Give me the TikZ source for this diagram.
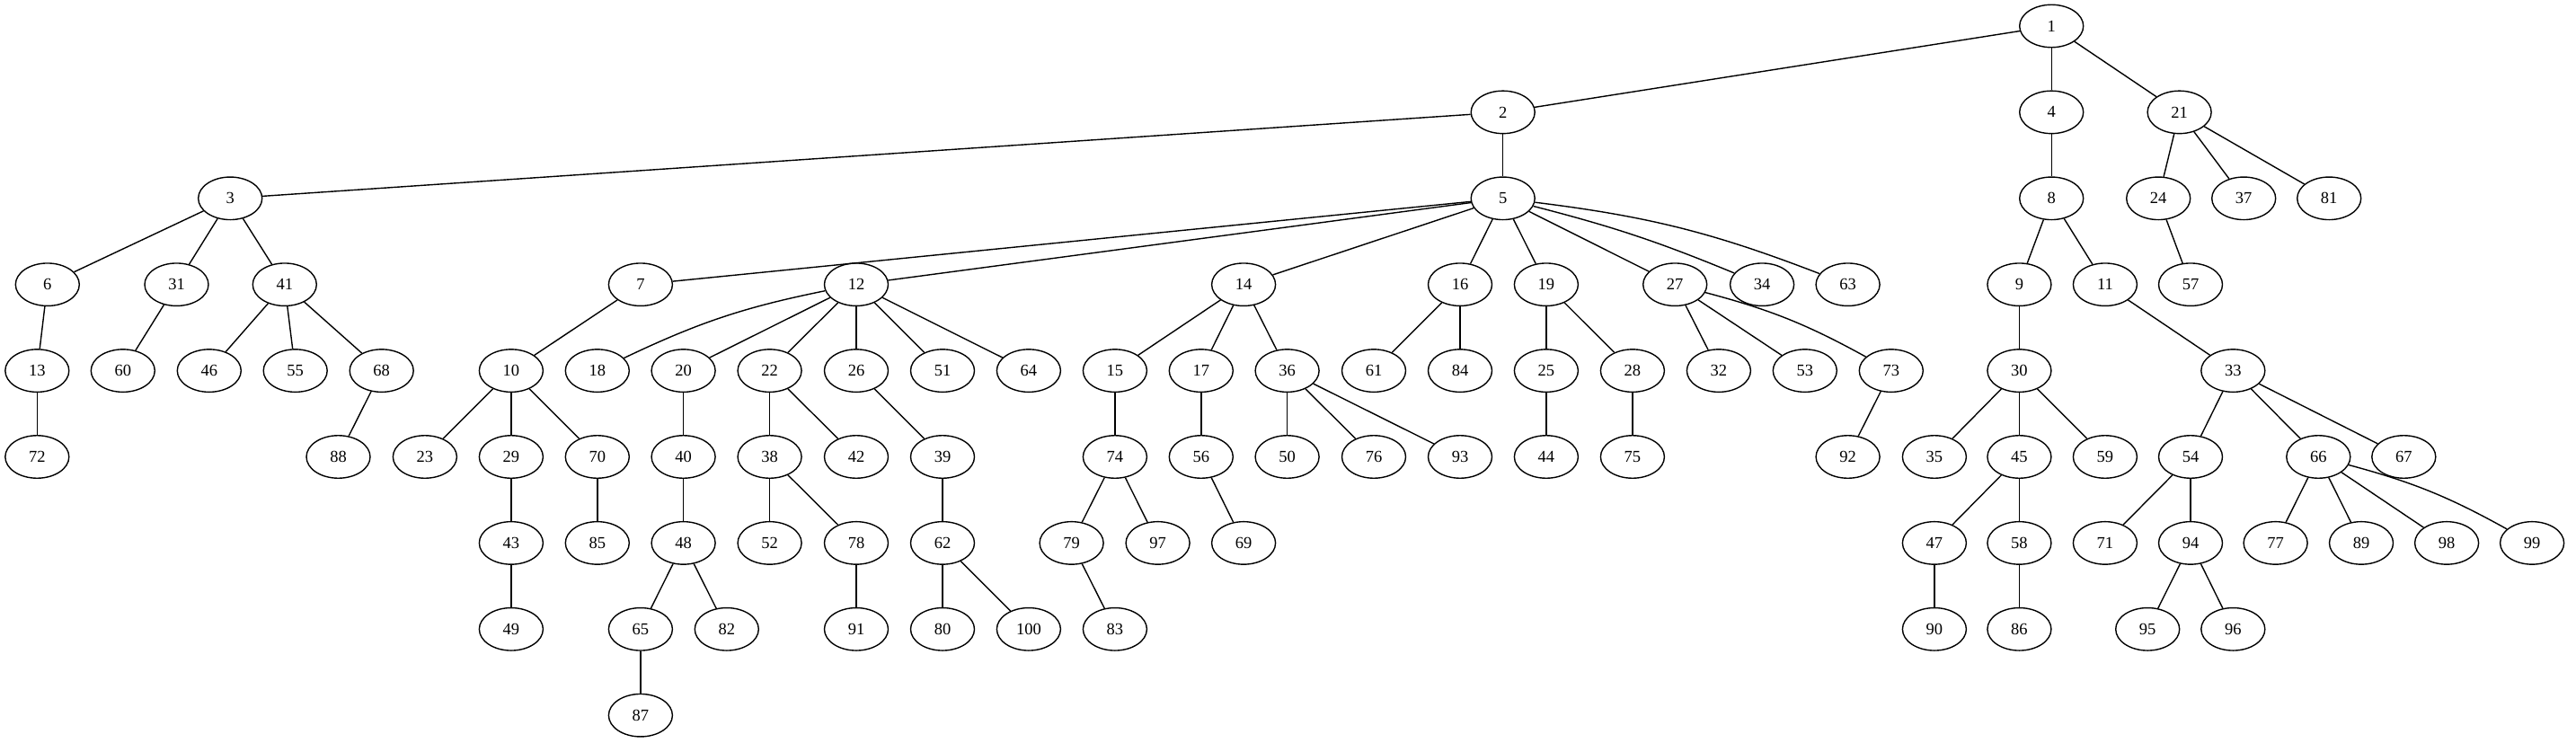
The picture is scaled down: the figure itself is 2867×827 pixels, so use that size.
\documentclass[tikz,border=0pt]{standalone}
\usepackage{fontspec}
\setmainfont{Liberation Serif}
\usetikzlibrary{shapes.geometric}
\begin{document}
\begin{tikzpicture}[x=1pt,y=1pt,
  vert/.style={ellipse,draw,line width=1.4pt,minimum width=71pt,minimum height=47.5pt,inner sep=0pt,font=\fontsize{18.5}{20}\selectfont},
  edge/.style={line width=1.4pt}]
\useasboundingbox (0,0) rectangle (2867,-827);
% row 0
\node[vert] (n1) at (2283.2,-29) {1};
% row 1
\node[vert] (n2) at (1672.7,-124.9) {2};
\node[vert] (n4) at (2283.2,-124.9) {4};
\node[vert] (n21) at (2425.6,-124.9) {21};
% row 2
\node[vert] (n3) at (256.2,-220.8) {3};
\node[vert] (n5) at (1672.7,-220.8) {5};
\node[vert] (n8) at (2283.2,-220.8) {8};
\node[vert] (n24) at (2402.2,-220.8) {24};
\node[vert] (n37) at (2497.2,-220.8) {37};
\node[vert] (n81) at (2592.2,-220.8) {81};
% row 3
\node[vert] (n6) at (52.8,-316.7) {6};
\node[vert] (n31) at (196.5,-316.7) {31};
\node[vert] (n41) at (316.8,-316.7) {41};
\node[vert] (n7) at (712.9,-316.7) {7};
\node[vert] (n12) at (953,-316.7) {12};
\node[vert] (n14) at (1384.1,-316.7) {14};
\node[vert] (n16) at (1625,-316.7) {16};
\node[vert] (n19) at (1720.9,-316.7) {19};
\node[vert] (n27) at (1864.2,-316.7) {27};
\node[vert] (n34) at (1961.1,-316.7) {34};
\node[vert] (n63) at (2056.6,-316.7) {63};
\node[vert] (n9) at (2247.4,-316.7) {9};
\node[vert] (n11) at (2342.9,-316.7) {11};
\node[vert] (n57) at (2438,-316.7) {57};
% row 4
\node[vert] (n13) at (41.3,-412.6) {13};
\node[vert] (n60) at (136.8,-412.6) {60};
\node[vert] (n46) at (232.8,-412.6) {46};
\node[vert] (n55) at (328.7,-412.6) {55};
\node[vert] (n68) at (424.7,-412.6) {68};
\node[vert] (n10) at (568.9,-412.6) {10};
\node[vert] (n18) at (664.8,-412.6) {18};
\node[vert] (n20) at (760.6,-412.6) {20};
\node[vert] (n22) at (856.6,-412.6) {22};
\node[vert] (n26) at (953,-412.6) {26};
\node[vert] (n51) at (1049,-412.6) {51};
\node[vert] (n64) at (1144.9,-412.6) {64};
\node[vert] (n15) at (1240.9,-412.6) {15};
\node[vert] (n17) at (1336.8,-412.6) {17};
\node[vert] (n36) at (1432.6,-412.6) {36};
\node[vert] (n61) at (1529,-412.6) {61};
\node[vert] (n84) at (1625,-412.6) {84};
\node[vert] (n25) at (1720.9,-412.6) {25};
\node[vert] (n28) at (1816.9,-412.6) {28};
\node[vert] (n32) at (1912.9,-412.6) {32};
\node[vert] (n53) at (2008.8,-412.6) {53};
\node[vert] (n73) at (2104.8,-412.6) {73};
\node[vert] (n30) at (2247.4,-412.6) {30};
\node[vert] (n33) at (2485.3,-412.6) {33};
% row 5
\node[vert] (n72) at (41.3,-508.5) {72};
\node[vert] (n88) at (376.5,-508.5) {88};
\node[vert] (n23) at (472.9,-508.5) {23};
\node[vert] (n29) at (568.9,-508.5) {29};
\node[vert] (n70) at (664.8,-508.5) {70};
\node[vert] (n40) at (760.6,-508.5) {40};
\node[vert] (n38) at (856.6,-508.5) {38};
\node[vert] (n42) at (953,-508.5) {42};
\node[vert] (n39) at (1049,-508.5) {39};
\node[vert] (n74) at (1240.9,-508.5) {74};
\node[vert] (n56) at (1336.8,-508.5) {56};
\node[vert] (n50) at (1432.6,-508.5) {50};
\node[vert] (n76) at (1529,-508.5) {76};
\node[vert] (n93) at (1625,-508.5) {93};
\node[vert] (n44) at (1720.9,-508.5) {44};
\node[vert] (n75) at (1816.9,-508.5) {75};
\node[vert] (n92) at (2056.6,-508.5) {92};
\node[vert] (n35) at (2152.9,-508.5) {35};
\node[vert] (n45) at (2247.4,-508.5) {45};
\node[vert] (n59) at (2342.9,-508.5) {59};
\node[vert] (n54) at (2438,-508.5) {54};
\node[vert] (n66) at (2580.3,-508.5) {66};
\node[vert] (n67) at (2675.3,-508.5) {67};
% row 6
\node[vert] (n43) at (568.9,-604.4) {43};
\node[vert] (n85) at (664.8,-604.4) {85};
\node[vert] (n48) at (760.6,-604.4) {48};
\node[vert] (n52) at (856.6,-604.4) {52};
\node[vert] (n78) at (953,-604.4) {78};
\node[vert] (n62) at (1049,-604.4) {62};
\node[vert] (n79) at (1192.6,-604.4) {79};
\node[vert] (n97) at (1288.6,-604.4) {97};
\node[vert] (n69) at (1384.1,-604.4) {69};
\node[vert] (n47) at (2152.9,-604.4) {47};
\node[vert] (n58) at (2247.4,-604.4) {58};
\node[vert] (n71) at (2342.9,-604.4) {71};
\node[vert] (n94) at (2438,-604.4) {94};
\node[vert] (n77) at (2532.6,-604.4) {77};
\node[vert] (n89) at (2628,-604.4) {89};
\node[vert] (n98) at (2723.1,-604.4) {98};
\node[vert] (n99) at (2818.1,-604.4) {99};
% row 7
\node[vert] (n49) at (568.9,-700.3) {49};
\node[vert] (n65) at (712.9,-700.3) {65};
\node[vert] (n82) at (808.8,-700.3) {82};
\node[vert] (n91) at (953,-700.3) {91};
\node[vert] (n80) at (1049,-700.3) {80};
\node[vert] (n100) at (1144.9,-700.3) {100};
\node[vert] (n83) at (1240.9,-700.3) {83};
\node[vert] (n90) at (2152.9,-700.3) {90};
\node[vert] (n86) at (2247.4,-700.3) {86};
\node[vert] (n95) at (2390.2,-700.3) {95};
\node[vert] (n96) at (2485.3,-700.3) {96};
% row 8
\node[vert] (n87) at (712.9,-796.2) {87};
% edges
\foreach \a/\b in {1/2,1/4,1/21,2/3,2/5,4/8,21/24,21/37,21/81,3/6,3/31,3/41,
  5/7,5/12,5/14,5/16,5/19,5/27,8/9,8/11,24/57,6/13,31/60,41/46,41/55,41/68,
  7/10,12/20,12/22,12/26,12/51,12/64,14/15,14/17,14/36,16/61,16/84,19/25,19/28,
  27/32,27/53,9/30,11/33,13/72,68/88,10/23,10/29,10/70,20/40,22/38,22/42,26/39,
  15/74,17/56,36/50,36/76,36/93,25/44,28/75,73/92,30/35,30/45,30/59,33/54,33/66,
  33/67,29/43,70/85,40/48,38/52,38/78,39/62,74/79,74/97,56/69,45/47,45/58,54/71,
  54/94,66/77,66/89,66/98,43/49,48/65,48/82,78/91,62/80,62/100,79/83,47/90,58/86,
  94/95,94/96,65/87}
  \draw[edge] (n\a) -- (n\b);
\draw[edge] (n5) to[bend left=4] (n34);
\draw[edge] (n5) to[bend left=7] (n63);
\draw[edge] (n27) to[bend left=7] (n73);
\draw[edge] (n66) to[bend left=7] (n99);
\draw[edge] (n12) to[bend right=7] (n18);
\end{tikzpicture}
\end{document}
